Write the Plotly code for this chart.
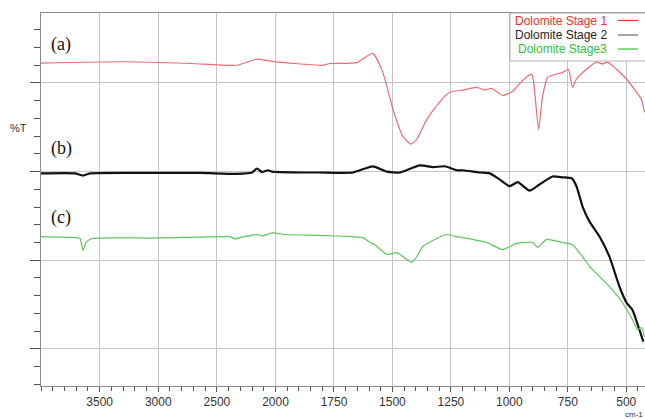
import plotly.graph_objects as go

# ---- data (wavenumber cm-1, relative %T offset units) ----
stage1_wn = [4000, 3292, 2721, 2328, 2158, 2030, 1938, 1801, 1767, 1652, 1584, 1541, 1498, 1456,
             1421, 1396, 1353, 1298, 1255, 1199, 1140, 1105, 1076, 1029, 986, 947, 905, 896,
             875, 858, 836, 798, 772, 747, 730, 713, 670, 627, 602, 580, 542, 499, 456, 435, 422]
stage1_t = [64.5, 64.8, 64.4, 64.0, 65.4, 64.9, 64.5, 64.0, 64.4, 64.6, 66.7, 62.4, 54.1, 48.0,
            46.2, 47.3, 51.8, 55.7, 57.9, 58.4, 59.0, 58.4, 58.8, 57.2, 58.1, 60.4, 62.0, 60.2,
            49.5, 57.0, 61.3, 62.0, 62.4, 63.1, 59.0, 60.9, 63.1, 64.7, 64.3, 64.7, 63.1, 60.9,
            57.9, 56.3, 53.4]

stage2_wn = [4000, 3710, 3642, 3582, 3070, 2644, 2328, 2200, 2158, 2115, 2064, 2030, 1895, 1810,
             1669, 1584, 1524, 1468, 1383, 1327, 1276, 1225, 1199, 1127, 1084, 1041, 999, 964,
             913, 871, 815, 772, 734, 713, 687, 657, 614, 572, 529, 499, 474, 444, 427]
stage2_t = [39.6, 39.6, 39.1, 39.6, 39.7, 39.7, 39.5, 39.8, 40.7, 39.9, 40.3, 40.0, 39.8, 39.8,
            39.8, 41.2, 40.0, 39.8, 41.4, 41.0, 41.2, 40.3, 40.3, 39.8, 39.6, 38.2, 36.7, 37.6,
            35.7, 37.1, 38.9, 38.7, 38.5, 36.7, 32.1, 28.7, 25.3, 20.8, 14.0, 10.4, 8.8, 4.3, 1.6]

stage3_wn = [4000, 3710, 3667, 3642, 3616, 3565, 3070, 2644, 2388, 2345, 2303, 2158, 2115, 2021,
             1959, 1810, 1669, 1626, 1596, 1575, 1524, 1481, 1417, 1396, 1370, 1310, 1268, 1225,
             1199, 1097, 1029, 969, 900, 879, 841, 772, 730, 687, 657, 614, 559, 516, 474, 452,
             435, 422]
stage3_t = [25.3, 25.1, 24.9, 22.2, 24.0, 24.9, 25.0, 25.2, 25.3, 24.8, 25.1, 25.8, 25.5, 26.2,
            25.8, 25.6, 25.3, 25.1, 24.0, 23.5, 21.3, 21.7, 19.5, 20.8, 23.1, 24.9, 25.8, 25.3,
            25.1, 24.0, 22.4, 23.8, 24.0, 22.9, 24.7, 24.0, 23.5, 20.8, 18.6, 16.3, 13.3, 10.4,
            6.6, 4.3, 4.8, 2.7]

series_names = ["Dolomite Stage 1", "Dolomite Stage 2", "Dolomite Stage3"]
series_labels = ["(a)", "(b)", "(c)"]
high_ticks = [3500, 3000, 2500]
high_ticklabels = ["3500", "3000", "2500"]
low_ticks = [2000, 1750, 1500, 1250, 1000, 750, 500]
low_ticklabels = ["2000", "1750", "1500", "1250", "1000", "750", "500"]

colors = ["#ee6a72", "#111111", "#5cc65c"]
legend_colors = ["#ff2a2a", "#222222", "#33c233"]
widths = [1.2, 2.2, 1.2]

W, H = 645, 419
ML, MR, MT, MB = 41, 0, 13, 33
PW, PH = W - ML - MR, H - MT - MB
split = (275.5 - ML) / PW

def px(x):  # screen x -> paper
    return (x - ML) / PW

def py(y):  # screen y -> paper
    return (H - MB - y) / PH

fig = go.Figure()
data = [(stage1_wn, stage1_t), (stage2_wn, stage2_t), (stage3_wn, stage3_t)]
for i, (wn, t) in enumerate(data):
    for xa in ["x", "x2"]:
        fig.add_trace(go.Scatter(x=wn, y=t, mode="lines", xaxis=xa, yaxis="y",
                                 line=dict(color=colors[i], width=widths[i],
                                           shape="spline", smoothing=0.5),
                                 name=series_names[i], showlegend=False,
                                 hoverinfo="skip"))

grid = "#c4c4c4"
axcol = "#8a8a8a"
tickfont = dict(family="Liberation Sans, Arial, sans-serif", size=12, color="#333333")

fig.update_layout(
    width=W, height=H,
    margin=dict(l=ML, r=MR, t=MT, b=MB),
    paper_bgcolor="white", plot_bgcolor="white",
    xaxis=dict(domain=[0, split], range=[4000, 2000], tickmode="array",
               tickvals=high_ticks, ticktext=high_ticklabels,
               showgrid=True, gridcolor=grid, gridwidth=1,
               showline=True, linecolor=axcol, mirror=True,
               ticks="outside", ticklen=5, tickcolor="#555555", ticklabelstandoff=0,
               minor=dict(tick0=0, dtick=100, ticks="outside", ticklen=4,
                          tickcolor="#555555", showgrid=False),
               tickfont=tickfont, zeroline=False, anchor="y"),
    xaxis2=dict(domain=[split, 1], range=[2000, 420], tickmode="array",
                tickvals=low_ticks, ticktext=low_ticklabels,
                showgrid=True, gridcolor=grid, gridwidth=1,
                showline=True, linecolor=axcol, mirror=True,
                ticks="outside", ticklen=5, tickcolor="#555555", ticklabelstandoff=0,
                minor=dict(tick0=0, dtick=50, ticks="outside", ticklen=4,
                           tickcolor="#555555", showgrid=False),
                tickfont=tickfont, zeroline=False, anchor="y"),
    yaxis=dict(range=[-8.4, 75.8], tickmode="array", tickvals=[0, 20, 40, 60],
               showticklabels=False, showgrid=True, gridcolor=grid, gridwidth=1,
               showline=True, linecolor=axcol, ticks="outside", ticklen=10,
               tickcolor="#555555",
               minor=dict(tick0=0, dtick=4, ticks="outside", ticklen=6,
                          tickcolor="#555555", showgrid=False),
               zeroline=False, anchor="x"),
)

shapes = []
# darker break line at 2000
shapes.append(dict(type="line", xref="x2", yref="paper", x0=2000, x1=2000, y0=0, y1=1,
                   line=dict(color="#9a9a9a", width=1.3), layer="below"))
# legend box
shapes.append(dict(type="rect", xref="paper", yref="paper",
                   x0=px(510), x1=px(652), y0=py(61), y1=py(13),
                   fillcolor="white", line=dict(color="#b0b0b0", width=1), layer="above"))
annotations = []
leg_y = [20.5, 35, 49]
for i in range(3):
    shapes.append(dict(type="line", xref="paper", yref="paper",
                       x0=px(618), x1=px(638), y0=py(leg_y[i]), y1=py(leg_y[i]),
                       line=dict(color=legend_colors[i] if i != 1 else "#666666", width=1.2),
                       layer="above"))
    annotations.append(dict(xref="paper", yref="paper", x=px(609), y=py(leg_y[i]),
                            xanchor="right", yanchor="middle", showarrow=False,
                            text=series_names[i],
                            font=dict(family="Liberation Sans, Arial, sans-serif", size=12,
                                      color=legend_colors[i])))

lab_y = [45, 148, 218]
for i in range(3):
    annotations.append(dict(xref="paper", yref="paper", x=px(61), y=py(lab_y[i]),
                            xanchor="center", yanchor="middle", showarrow=False,
                            text=series_labels[i],
                            font=dict(family="Liberation Serif, Times New Roman, serif",
                                      size=18, color="#111111")))

annotations.append(dict(xref="paper", yref="paper", x=px(18.5), y=py(128),
                        xanchor="center", yanchor="middle", showarrow=False, text="%T",
                        font=dict(family="Liberation Sans, Arial, sans-serif", size=11,
                                  color="#333333")))
annotations.append(dict(xref="paper", yref="paper", x=px(623), y=py(408),
                        xanchor="left", yanchor="top", showarrow=False, text="cm-1",
                        font=dict(family="Liberation Sans, Arial, sans-serif", size=8,
                                  color="#333333")))

fig.update_layout(shapes=shapes, annotations=annotations)
fig.write_html("out.html", config={"displayModeBar": False},
               post_script="document.body.style.margin='0';"
                           "document.body.style.overflow='hidden';")
